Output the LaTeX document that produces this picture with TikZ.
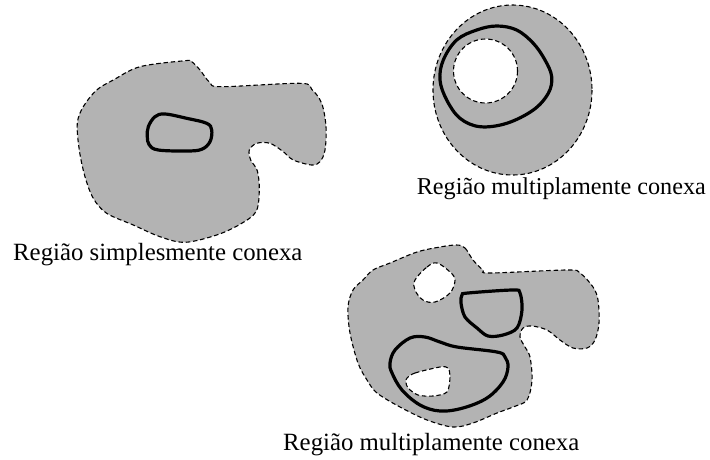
\documentclass[tikz,border=0pt]{standalone}
\usepackage{fontspec}
\setmainfont{Liberation Serif}
\begin{document}
\begin{tikzpicture}[x=1pt,y=-1pt,
  region/.style={draw=black,fill={rgb,255:red,179;green,179;blue,179},line width=1.1pt,dash pattern=on 4.5pt off 2.8pt},
  hole/.style={draw=black,fill=white,line width=1.1pt,dash pattern=on 4.5pt off 2.8pt},
  loopcurve/.style={draw=black,line width=3.2pt},
  lbl/.style={anchor=base west,inner sep=0pt,font=\fontsize{24.8}{30}\selectfont}]
\useasboundingbox (0,0) rectangle (710,459);
% left region
\draw[region] plot[smooth cycle,tension=0.55] coordinates {
 (185,60.7) (191.7,61.7) (200,70) (210,82.7) (221.7,86.7) (300,83.3) (311.7,89.3) (321.7,103.3)
 (326,126.7) (325,150) (320,161.7) (311.7,165) (293.3,160) (283.3,151.7) (270,143.3) (256.7,143.3)
 (249.3,150) (250.7,160) (257.3,170.7) (259.3,190) (256,211.7) (240,224.3) (216.7,235) (185,242.3)
 (160,236.7) (133.3,225) (106.7,213.3) (93.3,198.3) (85,176.7) (79.3,150) (77.3,123.3) (83.3,106.7)
 (96.7,90) (113.3,80) (140,66.7)};
\draw[loopcurve] plot[smooth cycle,tension=0.6] coordinates {
 (148.3,126.7) (155,116.7) (165,114) (186.7,118.3) (206.7,123.3) (211.7,130) (210,141.7) (201.7,149.3)
 (186.7,151) (158.3,150) (149.3,145) (147.3,136.7)};
\node[lbl] (l1) at (13,260) {Região simplesmente conexa};
% top right region
\draw[region] (512.5,90) ellipse [x radius=79.5,y radius=85];
\draw[hole] (485.5,71) circle [radius=32];
\draw[loopcurve] plot[smooth cycle,tension=0.6] coordinates {
 (440,80) (443.3,60) (456.7,40) (476.7,30) (496.7,26) (516.7,30) (533.3,43.3) (545,60) (551.7,76.7)
 (548.3,93.3) (533.3,110) (506.7,123.3) (480,126.7) (460,118.3) (446.7,100)};
\node[lbl,anchor=base east,font=\fontsize{24.2}{30}\selectfont] (l2) at (706,194) {Região multiplamente conexa};
% bottom region
\draw[region] plot[smooth cycle,tension=0.55] coordinates {
 (456.7,245) (465,248) (473,260) (483,270) (490,273) (567,270) (580,273) (593,287) (598,300)
 (599,323) (595,340) (587,348) (573,348) (560,340) (547,330) (532,326) (523,328) (520,337)
 (525,347) (530,357) (532,380) (527,400) (513,407) (497,413) (473,423) (453,427) (427,420)
 (400,407) (377,393) (367,380) (358,363) (350,333) (348,307) (353,290) (363,280) (373,270)
 (390,263) (417,252) (440,247)};
\draw[hole] plot[smooth cycle,tension=0.6] coordinates {
 (415,280) (427,267) (437,263) (450,272) (455,280) (450,293) (435,302) (423,300) (415,290)};
\draw[hole] plot[smooth cycle,tension=0.5] coordinates {
 (407,378) (415,373) (440,367) (448,368) (450,377) (447,392) (433,396) (418,395) (408,388) (406,382)};
\draw[loopcurve] plot[smooth cycle,tension=0.55] coordinates {
 (462,295) (468,293) (513,290) (520,293) (522,310) (517,328) (503,335) (488,336) (477,328)
 (465,317) (461,303)};
\draw[loopcurve] plot[smooth cycle,tension=0.6] coordinates {
 (390,363) (395,350) (410,338) (425,337) (440,342) (457,347) (497,352) (505,357) (508,367)
 (503,382) (487,398) (463,408) (440,411) (420,405) (402,390) (392,373)};
\node[lbl] (l3) at (283,450) {Região multiplamente conexa};
\end{tikzpicture}
\end{document}
